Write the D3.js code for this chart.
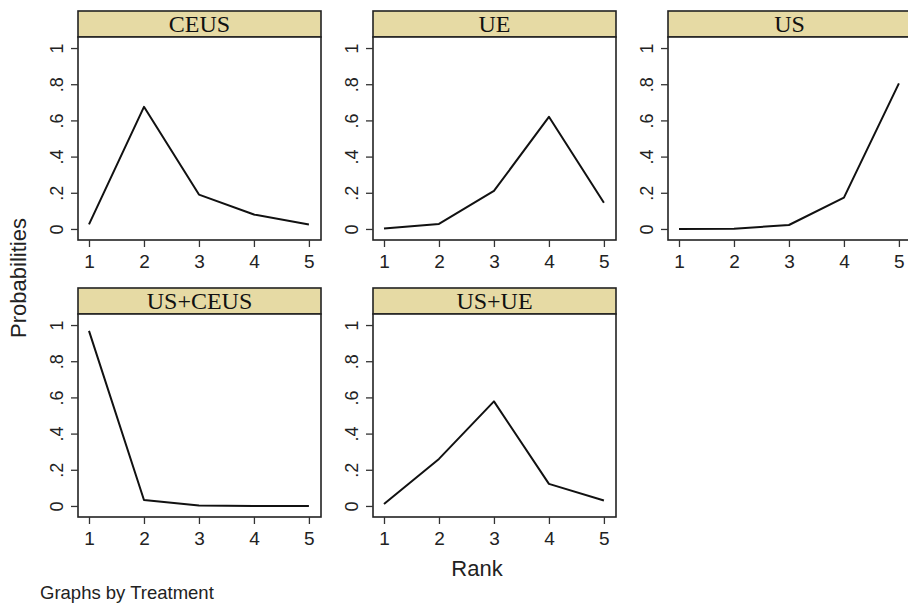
<!DOCTYPE html>
<html><head><meta charset="utf-8">
<script src="https://cdn.jsdelivr.net/npm/d3@7"></script>
<style>body{margin:0;background:#fff}svg{display:block}</style>
</head><body>
<script>
const treatments = ["CEUS", "UE", "US", "US+CEUS", "US+UE"];
const ranks = [1, 2, 3, 4, 5];
const probCEUS   = [0.025, 0.675, 0.19, 0.08, 0.025];
const probUE     = [0.002, 0.028, 0.21, 0.62, 0.145];
const probUS     = [0.0, 0.001, 0.022, 0.173, 0.805];
const probUSCEUS = [0.968, 0.033, 0.002, 0.0, 0.0];
const probUSUE   = [0.011, 0.26, 0.578, 0.122, 0.03];
const seriesValues = [probCEUS, probUE, probUS, probUSCEUS, probUSUE];
const yTicks = [0, 0.2, 0.4, 0.6, 0.8, 1];
const yTickLabels = ["0", ".2", ".4", ".6", ".8", "1"];
const xTicks = [1, 2, 3, 4, 5];

const W = 908, H = 603;
const svg = d3.select("body").append("svg").attr("width", W).attr("height", H);

const panelW = 243, plotH = 203, stripH = 26, colStep = 295;
const colX = c => 78 + colStep * c;
const rowTop = [11, 288];

treatments.forEach((t, i) => {
  const row = Math.floor(i / 3), col = i % 3;
  const x0 = colX(col), sTop = rowTop[row], pTop = sTop + stripH, pBot = pTop + plotH;
  const x = d3.scaleLinear().domain([0.8, 5.22]).range([x0, x0 + panelW]);
  const y = d3.scaleLinear().domain([-0.061, 1.061]).range([pBot, pTop]);
  const g = svg.append("g");

  // strip
  g.append("rect").attr("x", x0).attr("y", sTop).attr("width", panelW).attr("height", stripH)
    .attr("fill", "#e6daa4").attr("stroke", "#222").attr("stroke-width", 1.6);
  g.append("text").attr("x", x0 + panelW / 2).attr("y", sTop + 21)
    .attr("text-anchor", "middle").attr("font-family", "Liberation Serif, Times New Roman, serif")
    .attr("font-size", 24).attr("fill", "#111").text(t);

  // plot box
  g.append("rect").attr("x", x0).attr("y", pTop).attr("width", panelW).attr("height", plotH)
    .attr("fill", "#fff").attr("stroke", "#222").attr("stroke-width", 1.6);

  // y axis
  const ya = d3.axisLeft(y).tickValues(yTicks).tickSize(7).tickPadding(4)
    .tickFormat((d, k) => yTickLabels[k]);
  const yg = g.append("g").attr("transform", `translate(${x0},0)`).call(ya);
  yg.select(".domain").remove();
  yg.selectAll(".tick line").attr("stroke", "#333").attr("stroke-width", 1.3);
  yg.selectAll(".tick text").attr("x", null).attr("dy", null)
    .attr("text-anchor", "middle").attr("font-family", "Liberation Sans, Arial, sans-serif")
    .attr("font-size", 18).attr("fill", "#222")
    .attr("transform", "translate(-21,0) rotate(-90)").attr("dy", "0.36em");

  // x axis
  const xa = d3.axisBottom(x).tickValues(xTicks).tickSize(7).tickPadding(5).tickFormat(d3.format("d"));
  const xg = g.append("g").attr("transform", `translate(0,${pBot})`).call(xa);
  xg.select(".domain").remove();
  xg.selectAll(".tick line").attr("stroke", "#333").attr("stroke-width", 1.3);
  xg.selectAll(".tick text").attr("font-family", "Liberation Sans, Arial, sans-serif")
    .attr("font-size", 19).attr("fill", "#222").attr("y", 15).attr("dy", "0.71em");

  // line
  const line = d3.line().x((d, k) => x(ranks[k])).y(d => y(d));
  g.append("path").datum(seriesValues[i]).attr("d", line)
    .attr("fill", "none").attr("stroke", "#111").attr("stroke-width", 2)
    .attr("stroke-linejoin", "round");
});

svg.append("text").attr("transform", "translate(26,278) rotate(-90)")
  .attr("text-anchor", "middle").attr("font-family", "Liberation Sans, Arial, sans-serif")
  .attr("font-size", 22).attr("fill", "#222").text("Probabilities");
svg.append("text").attr("x", 477).attr("y", 576)
  .attr("text-anchor", "middle").attr("font-family", "Liberation Sans, Arial, sans-serif")
  .attr("font-size", 22).attr("fill", "#222").text("Rank");
svg.append("text").attr("x", 40).attr("y", 599)
  .attr("font-family", "Liberation Sans, Arial, sans-serif")
  .attr("font-size", 18.5).attr("fill", "#222").text("Graphs by Treatment");
</script>
</body></html>
